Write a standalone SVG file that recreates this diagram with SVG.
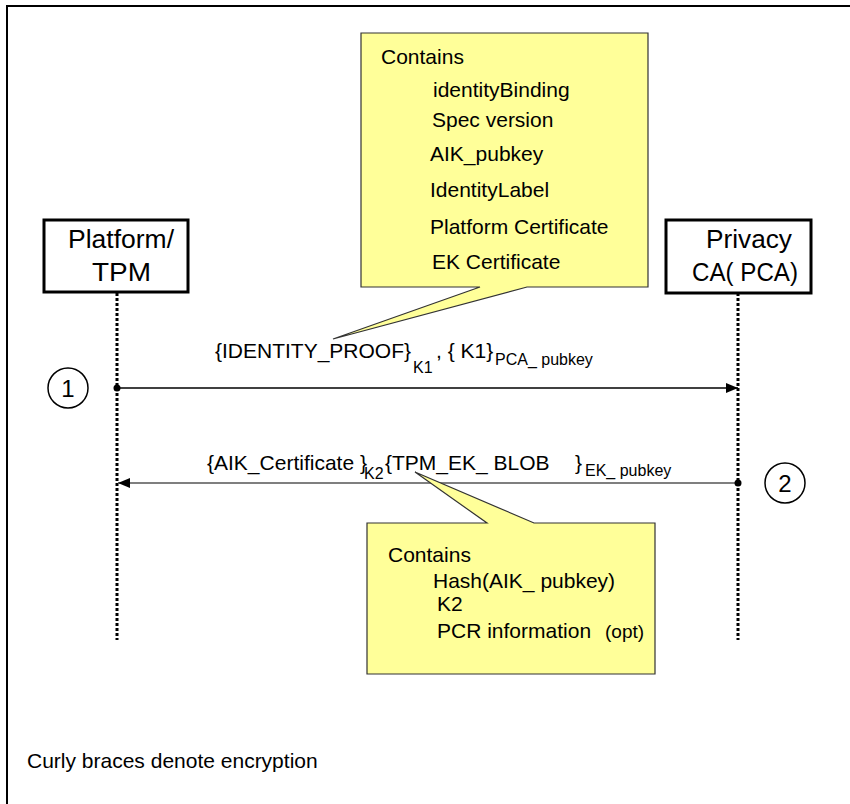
<svg xmlns="http://www.w3.org/2000/svg" width="850" height="804" viewBox="0 0 850 804">
<style>
text{font-family:"Liberation Sans",Arial,sans-serif;fill:#000}
.t21{font-size:21px}
.t16{font-size:16px}
.big{font-size:26px}
.box{fill:#fff;stroke:#000;stroke-width:3}
.life{stroke:#000;stroke-width:3;stroke-dasharray:3 2;fill:none}
.callout{fill:#ffff99;stroke:#333;stroke-width:1.2}
.num{fill:#fff;stroke:#000;stroke-width:1.5}
</style>
<defs>
<marker id="ah" markerWidth="12" markerHeight="10" refX="12" refY="5" orient="auto" markerUnits="userSpaceOnUse">
<path d="M0,0 L12,5 L0,10 Z" fill="#000"/>
</marker>
</defs>
<rect x="0" y="0" width="850" height="804" fill="#fff"/>
<path d="M850,6 H7 V804" fill="none" stroke="#000" stroke-width="2"/>

<g id="connectors">
<line class="life" x1="117" y1="293" x2="117" y2="640"/>
<line class="life" x1="738" y1="293" x2="738" y2="640"/>
<line x1="117" y1="388" x2="738" y2="388" stroke="#000" stroke-width="1.5" marker-end="url(#ah)"/>
<circle cx="117" cy="388" r="3.5" fill="#000"/>
<line x1="738" y1="483" x2="118" y2="483" stroke="#555" stroke-width="1.5" marker-end="url(#ah)"/>
<circle cx="738" cy="483" r="3.5" fill="#000"/>
</g>

<g id="platform">
<rect class="box" x="44" y="220" width="144" height="72"/>
<text class="big" x="68" y="248" textLength="106" lengthAdjust="spacingAndGlyphs">Platform/</text>
<text class="big" x="92" y="281" textLength="59" lengthAdjust="spacingAndGlyphs">TPM</text>
</g>

<g id="pca">
<rect class="box" x="666" y="220" width="145" height="73"/>
<text class="big" x="706" y="248" textLength="86" lengthAdjust="spacingAndGlyphs">Privacy</text>
<text class="big" x="692" y="281" textLength="106" lengthAdjust="spacingAndGlyphs">CA( PCA)</text>
</g>

<g id="callout1">
<path class="callout" d="M361,33 H648 V287 H527 L333,339 L480,287 H361 Z"/>
<text class="t21" x="381" y="64">Contains</text>
<text class="t21" x="433" y="97">identityBinding</text>
<text class="t21" x="432" y="127">Spec version</text>
<text class="t21" x="430" y="161">AIK_pubkey</text>
<text class="t21" x="430" y="197">IdentityLabel</text>
<text class="t21" x="430" y="234">Platform Certificate</text>
<text class="t21" x="432" y="269">EK Certificate</text>
</g>

<g id="callout2">
<path class="callout" d="M367,523 H487 L415,472 L534,523 H655 V674 H367 Z"/>
<text class="t21" x="388" y="562">Contains</text>
<text class="t21" x="433" y="588">Hash(AIK_ pubkey)</text>
<text class="t21" x="437" y="611">K2</text>
<text class="t21" x="437" y="638">PCR information</text>
<text x="605" y="638" style="font-size:19px">(opt)</text>
</g>

<g id="msg1">
<text class="t21" x="215" y="358">{IDENTITY_PROOF}</text>
<text class="t16" x="413" y="373">K1</text>
<text class="t21" x="436" y="358">, { K1}</text>
<text class="t16" x="495" y="365">PCA_ pubkey</text>
</g>

<g id="msg2">
<text class="t21" x="207" y="470">{AIK_Certificate }</text>
<text class="t16" x="364" y="479">K2</text>
<text class="t21" x="385" y="470">{TPM_EK_ BLOB</text>
<text class="t21" x="575" y="470">}</text>
<text class="t16" x="585" y="476">EK_ pubkey</text>
</g>

<g id="step1">
<circle class="num" cx="68" cy="388" r="20"/>
<text x="68" y="397" text-anchor="middle" style="font-size:24px">1</text>
</g>
<g id="step2">
<circle class="num" cx="785" cy="483" r="20"/>
<text x="785" y="492" text-anchor="middle" style="font-size:24px">2</text>
</g>

<g id="note">
<text class="t21" x="27" y="768">Curly braces denote encryption</text>
</g>
</svg>
